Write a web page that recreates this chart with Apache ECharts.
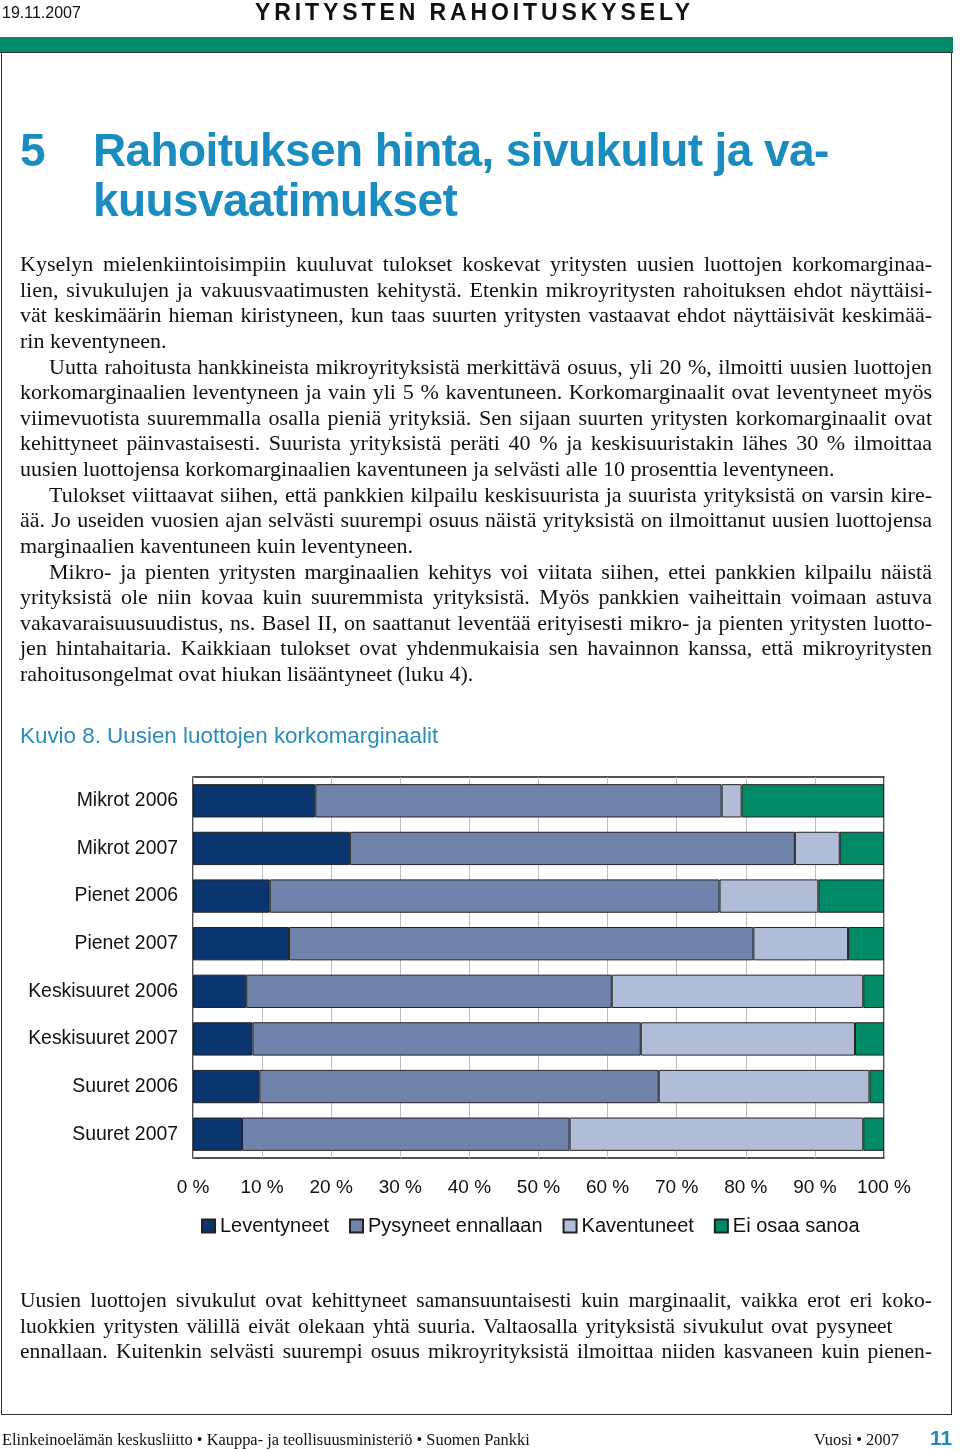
<!DOCTYPE html>
<html>
<head>
<meta charset="utf-8">
<script src="https://cdn.jsdelivr.net/npm/echarts@6/dist/echarts.min.js"></script>
<style>
  html, body { margin: 0; padding: 0; background: #fff; }
  body { width: 960px; height: 1450px; position: relative; overflow: hidden; }
  .abs { position: absolute; }
  #frame { left: 1px; top: 53px; width: 951px; height: 1362px; border: 1.5px solid #333; border-top: none; box-sizing: border-box; }
  #greenbar { left: 0; top: 37px; width: 953px; height: 16px; background: #008a68; border-bottom: 1.5px solid #333; box-sizing: border-box; }
  #date { left: 2px; top: 4px; font: 16px 'Liberation Sans', Arial, sans-serif; color: #111; }
  #runhead { left: 255px; top: -1px; font: bold 23px 'Liberation Sans', Arial, sans-serif; letter-spacing: 3.9px; color: #111; }
  #title { left: 20px; top: 125px; font: bold 46px 'Liberation Sans', Arial, sans-serif; color: #1b8cc0; line-height: 50px; letter-spacing: -0.6px; }
  #title .num { position: absolute; left: 0; top: 0; }
  #title .txt { position: absolute; left: 73px; top: 0; white-space: nowrap; }
  .body { left: 20px; width: 912px; font: 22px 'Liberation Serif', 'Times New Roman', serif; line-height: 25.625px; color: #111; }
  .body div { white-space: nowrap; }
  .body .j { text-align: justify; text-align-last: justify; white-space: normal; }
  .body .in { text-indent: 29px; }
  .body2 { font-size: 21.5px; }
  #caption { left: 20px; top: 723px; font: 22.4px 'Liberation Sans', Arial, sans-serif; color: #2a8db5; }
  #footer { left: 2px; top: 1430px; font: 16.4px 'Liberation Serif', 'Times New Roman', serif; color: #111; }
  #footer2 { left: 814px; top: 1430px; font: 16.4px 'Liberation Serif', 'Times New Roman', serif; color: #111; }
  #pagenum { left: 930px; top: 1426px; font: bold 21px 'Liberation Sans', Arial, sans-serif; color: #1b8cc0; }
  #chart { left: 0; top: 0; width: 960px; height: 1450px; z-index: 1; }
  .txtlayer { z-index: 2; }
</style>
</head>
<body>
<div id="frame" class="abs"></div>
<div id="greenbar" class="abs"></div>
<div id="date" class="abs txtlayer">19.11.2007</div>
<div id="runhead" class="abs txtlayer">YRITYSTEN RAHOITUSKYSELY</div>
<div id="title" class="abs txtlayer">
  <div class="num">5</div>
  <div class="txt">Rahoituksen hinta, sivukulut ja va-<br>kuusvaatimukset</div>
</div>
<div class="abs body txtlayer" style="top:251px">
  <div class="j">Kyselyn mielenkiintoisimpiin kuuluvat tulokset koskevat yritysten uusien luottojen korkomarginaa-</div>
  <div class="j">lien, sivukulujen ja vakuusvaatimusten kehitystä. Etenkin mikroyritysten rahoituksen ehdot näyttäisi-</div>
  <div class="j">vät keskimäärin hieman kiristyneen, kun taas suurten yritysten vastaavat ehdot näyttäisivät keskimää-</div>
  <div>rin keventyneen.</div>
  <div class="j in">Uutta rahoitusta hankkineista mikroyrityksistä merkittävä osuus, yli 20 %, ilmoitti uusien luottojen</div>
  <div class="j">korkomarginaalien leventyneen ja vain yli 5 % kaventuneen. Korkomarginaalit ovat leventyneet myös</div>
  <div class="j">viimevuotista suuremmalla osalla pieniä yrityksiä. Sen sijaan suurten yritysten korkomarginaalit ovat</div>
  <div class="j">kehittyneet päinvastaisesti. Suurista yrityksistä peräti 40 % ja keskisuuristakin lähes 30 % ilmoittaa</div>
  <div>uusien luottojensa korkomarginaalien kaventuneen ja selvästi alle 10 prosenttia leventyneen.</div>
  <div class="j in">Tulokset viittaavat siihen, että pankkien kilpailu keskisuurista ja suurista yrityksistä on varsin kire-</div>
  <div class="j">ää. Jo useiden vuosien ajan selvästi suurempi osuus näistä yrityksistä on ilmoittanut uusien luottojensa</div>
  <div>marginaalien kaventuneen kuin leventyneen.</div>
  <div class="j in">Mikro- ja pienten yritysten marginaalien kehitys voi viitata siihen, ettei pankkien kilpailu näistä</div>
  <div class="j">yrityksistä ole niin kovaa kuin suuremmista yrityksistä. Myös pankkien vaiheittain voimaan astuva</div>
  <div class="j">vakavaraisuusuudistus, ns. Basel II, on saattanut leventää erityisesti mikro- ja pienten yritysten luotto-</div>
  <div class="j">jen hintahaitaria. Kaikkiaan tulokset ovat yhdenmukaisia sen havainnon kanssa, että mikroyritysten</div>
  <div>rahoitusongelmat ovat hiukan lisääntyneet (luku 4).</div>
</div>
<div id="caption" class="abs txtlayer">Kuvio 8. Uusien luottojen korkomarginaalit</div>
<div class="abs body body2 txtlayer" style="top:1288px">
  <div class="j">Uusien luottojen sivukulut ovat kehittyneet samansuuntaisesti kuin marginaalit, vaikka erot eri koko-</div>
  <div style="word-spacing:2.6px">luokkien yritysten välillä eivät olekaan yhtä suuria. Valtaosalla yrityksistä sivukulut ovat pysyneet</div>
  <div class="j">ennallaan. Kuitenkin selvästi suurempi osuus mikroyrityksistä ilmoittaa niiden kasvaneen kuin pienen-</div>
</div>
<div id="footer" class="abs txtlayer">Elinkeinoelämän keskusliitto • Kauppa- ja teollisuusministeriö • Suomen Pankki</div>
<div id="footer2" class="abs txtlayer">Vuosi • 2007</div>
<div id="pagenum" class="abs txtlayer">11</div>
<div id="chart" class="abs"></div>
<script>
// ---- data ----
const categories = ['Mikrot 2006', 'Mikrot 2007', 'Pienet 2006', 'Pienet 2007',
  'Keskisuuret 2006', 'Keskisuuret 2007', 'Suuret 2006', 'Suuret 2007'];
const seriesNames = ['Leventyneet', 'Pysyneet ennallaan', 'Kaventuneet', 'Ei osaa sanoa'];
const leventyneet = [17.7, 22.7, 11.1, 13.9, 7.7, 8.6, 9.6, 7.1];
const pysyneet    = [58.8, 64.4, 65.1, 67.2, 52.9, 56.2, 57.8, 47.4];
const kaventuneet = [2.9, 6.5, 14.3, 13.7, 36.4, 31.0, 30.5, 42.5];
const eiOsaa      = [20.6, 6.4, 9.5, 5.2, 3.0, 4.2, 2.1, 3.0];
const xTickLabels = ['0 %', '10 %', '20 %', '30 %', '40 %', '50 %', '60 %', '70 %', '80 %', '90 %', '100 %'];

const seriesData = [leventyneet, pysyneet, kaventuneet, eiOsaa];
const colors = ['#0b356f', '#7083aa', '#b1bcd7', '#008a65'];
const font = "'Liberation Sans', Arial, sans-serif";

const chart = echarts.init(document.getElementById('chart'), null, { renderer: 'canvas' });
chart.setOption({
  backgroundColor: 'transparent',
  animation: false,
  textStyle: { fontFamily: font },
  color: colors,
  grid: {
    left: 193, top: 777, width: 691, height: 381,
    show: true, backgroundColor: '#fff', borderColor: '#1a1a1a', borderWidth: 1.5,
    containLabel: false
  },
  legend: {
    data: seriesNames,
    left: 201, top: 1216, padding: 0,
    itemWidth: 13, itemHeight: 13, itemGap: 20,
    icon: 'rect',
    textStyle: { fontSize: 20, color: '#111', fontFamily: font }
  },
  xAxis: {
    type: 'value', min: 0, max: 100, interval: 10,
    axisLine: { show: false }, axisTick: { show: false },
    splitLine: { show: true, lineStyle: { color: '#bdbdbd', width: 1 } },
    axisLabel: {
      margin: 20, fontSize: 19, color: '#111', fontFamily: font,
      formatter: function (v) { return xTickLabels[Math.round(v / 10)]; }
    }
  },
  yAxis: {
    type: 'category', data: categories, inverse: true,
    axisLine: { show: false }, axisTick: { show: false },
    axisLabel: { margin: 15, fontSize: 19.4, color: '#111', fontFamily: font }
  },
  series: seriesData.map(function (d, i) {
    return {
      name: seriesNames[i], type: 'bar', stack: 'total', data: d,
      barWidth: '70%',
      itemStyle: { color: colors[i], borderColor: '#222', borderWidth: 1 }
    };
  })
});
</script>
</body>
</html>
